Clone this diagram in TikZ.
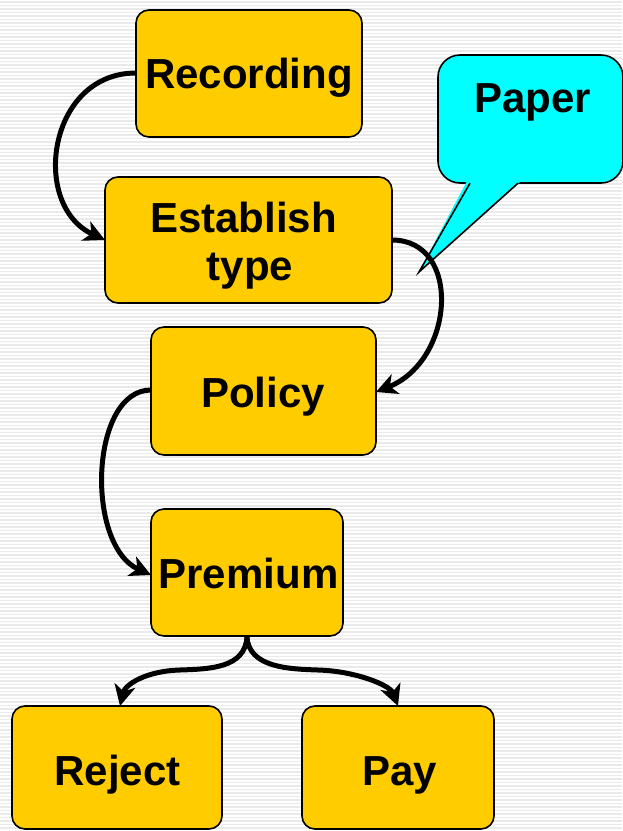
\documentclass[tikz,border=0pt]{standalone}
\usepackage{fontspec}
\setmainfont{Liberation Sans}
\usetikzlibrary{arrows.meta}
\definecolor{boxfill}{HTML}{FFCC00}
\definecolor{calloutfill}{HTML}{00FFFF}
\definecolor{stripe}{HTML}{EAEAEA}
\tikzset{
  stepbox/.style={draw=black, line width=1.6pt, fill=boxfill, rounded corners=13pt},
  label/.style={font=\fontsize{42}{48}\selectfont\bfseries, inner sep=0pt, anchor=base},
  flow/.style={line width=5pt, -{Stealth[length=21pt,width=21pt,inset=6pt]}},
}
\begin{document}
\begin{tikzpicture}[x=1pt,y=-1pt]
  \useasboundingbox (0,0) rectangle (622,831);
  % striped backdrop
  \fill[white] (0,0) rectangle (622,831);
  \foreach \yy in {1,4.5,...,831} {
    \fill[stripe] (0,\yy) rectangle (622,\yy+1.7);
  }

  % speech bubble: rounded body, then the pointer laid over its lower edge
  \draw[line width=1.6pt, fill=calloutfill, rounded corners=22pt]
    (438,55) rectangle (623,183);
  \fill[calloutfill] (467,181) -- (419,272) -- (521,181) -- cycle;
  \draw[line width=1.6pt, line join=miter] (470,183.2) -- (419,272) -- (518,183.2);
  \node[label] (paper) at (532.5,112) {Paper};

  % process boxes
  \draw[stepbox] (136,10) rectangle (362,137);
  \coordinate (recW) at (136,73);
  \node[label] (rec) at (249,88) {Recording};

  \draw[stepbox] (105,177) rectangle (392,303);
  \coordinate (estW) at (105,240);
  \coordinate (estE) at (392,240);
  \node[label] (est1) at (243.5,232) {Establish};
  \node[label] (est2) at (250,280) {type};

  \draw[stepbox] (151,327) rectangle (376,455);
  \coordinate (polE) at (376,392);
  \coordinate (polW) at (151,390);
  \node[label] (pol) at (263,407) {Policy};

  \draw[stepbox] (151,509) rectangle (343,636);
  \coordinate (preW) at (151,575);
  \coordinate (preS) at (247,637);
  \node[label] (pre) at (248.5,588) {Premium};

  \draw[stepbox] (12,706) rectangle (222,829);
  \coordinate (rejN) at (120,706);
  \node[label] (rej) at (117.5,785) {Reject};

  \draw[stepbox] (302,706) rectangle (494,829);
  \coordinate (payN) at (398,706);
  \node[label] (pay) at (399.5,785) {Pay};

  % connectors
  \draw[flow] (recW) .. controls (48,73) and (30,205) .. (estW);
  \draw[flow] (estE) .. controls (462,240) and (455,360) .. (polE);
  \draw[flow] (polW) .. controls (90,390) and (85,545) .. (preW);
  \draw[flow] (preS) .. controls (245,668) and (210,669) .. (180,670)
                     .. controls (145,671) and (125,685) .. (rejN);
  \draw[flow] (preS) .. controls (249,668) and (290,669) .. (318,670)
                     .. controls (355,671) and (390,685) .. (payN);
\end{tikzpicture}
\end{document}
